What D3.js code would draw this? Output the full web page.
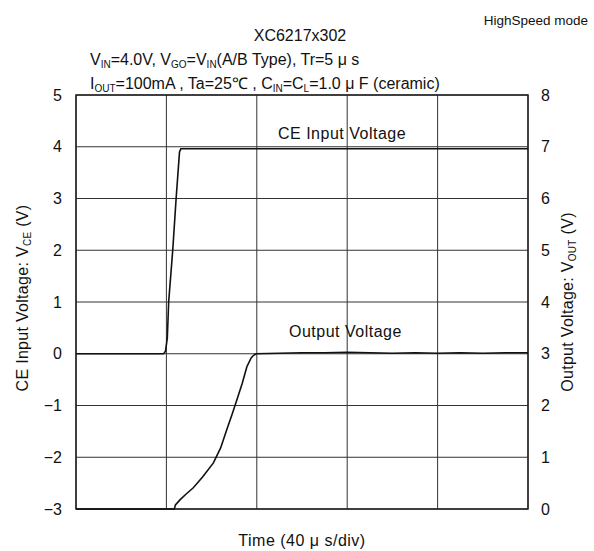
<!DOCTYPE html>
<html><head><meta charset="utf-8">
<script src="https://cdn.jsdelivr.net/npm/d3@7"></script>
<style>body{margin:0;background:#fff}svg{display:block}text{font-family:"Liberation Sans",Arial,sans-serif;fill:#111}</style>
</head><body><svg id="c" width="594" height="551"></svg>
<script>
// ---- data ----
const xTicks = [0, 40, 80, 120, 160, 200];           // µs (40 µs/div)
const leftTicks = [-3, -2, -1, 0, 1, 2, 3, 4, 5];    // CE input voltage (V)
const rightTicks = [0, 1, 2, 3, 4, 5, 6, 7, 8];      // output voltage (V)
const ceTime = [0, 38.8, 39.6, 40.4, 41.0, 42.8, 44.3, 45.8, 46.4, 200];
const ceVolt = [0, 0, 0.05, 0.3, 1.0, 2.0, 3.0, 3.9, 3.96, 3.96];
const outTime = [0, 43.5, 44.0, 46.1, 48.5, 51.9, 56.0, 60.8, 64.0, 66.7, 69.0, 71.2, 73.5, 75.6, 77.5, 78.6, 79.7, 90, 100, 110, 120, 130, 140, 150, 160, 170, 180, 190, 200];
const outVolt = [0, 0, 0.08, 0.18, 0.28, 0.41, 0.62, 0.89, 1.18, 1.53, 1.82, 2.11, 2.42, 2.75, 2.92, 2.97, 3.0, 3.01, 3.02, 3.02, 3.03, 3.02, 3.01, 3.02, 3.01, 3.02, 3.01, 3.02, 3.02];

// ---- layout ----
const svg = d3.select("#c");
const L = 76, R = 528, T = 95, B = 509;
const x = d3.scaleLinear().domain([0, 200]).range([L, R]);
const yL = d3.scaleLinear().domain([-3, 5]).range([B, T]);
const yR = d3.scaleLinear().domain([0, 8]).range([B, T]);

// grid
const g = svg.append("g");
g.selectAll("line.v").data(xTicks).join("line")
  .attr("x1", d => x(d)).attr("x2", d => x(d)).attr("y1", T).attr("y2", B)
  .attr("stroke", "#333").attr("stroke-width", 1);
g.selectAll("line.h").data(leftTicks).join("line")
  .attr("x1", L).attr("x2", R).attr("y1", d => yL(d)).attr("y2", d => yL(d))
  .attr("stroke", "#333").attr("stroke-width", 1);
g.append("rect").attr("x", L).attr("y", T).attr("width", R - L).attr("height", B - T)
  .attr("fill", "none").attr("stroke", "#222").attr("stroke-width", 1.5);

// axes (labels only)
const axL = d3.axisLeft(yL).tickValues(leftTicks).tickSize(0).tickPadding(14).tickFormat(d => d < 0 ? "\u2212" + Math.abs(d) : d);
const gl = svg.append("g").attr("transform", `translate(${L},0)`).call(axL);
const axR = d3.axisRight(yR).tickValues(rightTicks).tickSize(0).tickPadding(13);
const gr = svg.append("g").attr("transform", `translate(${R},0)`).call(axR);
[gl, gr].forEach(a => { a.select(".domain").remove(); a.selectAll("text").attr("font-size", 16).attr("font-family", "Liberation Sans, Arial, sans-serif").attr("fill", "#111"); });

// lines
const ceLine = d3.line().x((d, i) => x(ceTime[i])).y(d => yL(d));
svg.append("path").datum(ceVolt).attr("d", ceLine).attr("fill", "none").attr("stroke", "#111").attr("stroke-width", 1.6);
const outLine = d3.line().x((d, i) => x(outTime[i])).y(d => yR(d));
svg.append("path").datum(outVolt).attr("d", outLine).attr("fill", "none").attr("stroke", "#111").attr("stroke-width", 1.6);

// series labels
svg.append("text").attr("x", 278).attr("y", 139).attr("font-size", 16).attr("letter-spacing", 0.5).text("CE Input Voltage");
svg.append("text").attr("x", 289).attr("y", 337).attr("font-size", 16).attr("letter-spacing", 0.5).text("Output Voltage");

// titles
svg.append("text").attr("x", 588).attr("y", 25).attr("text-anchor", "end").attr("font-size", 13.5).text("HighSpeed mode");
svg.append("text").attr("x", 300).attr("y", 41).attr("text-anchor", "middle").attr("font-size", 16).text("XC6217x302");

function rich(xp, yp, parts) {
  const t = svg.append("text").attr("x", xp).attr("y", yp).attr("font-size", 16);
  let shifted = false;
  parts.forEach(p => {
    if (typeof p === "string") {
      const s = t.append("tspan").text(p);
      if (shifted) { s.attr("dy", -3); shifted = false; }
    } else {
      t.append("tspan").attr("font-size", 10).attr("dy", 3).text(p.sub);
      shifted = true;
    }
  });
  return t;
}
rich(90, 65, ["V", {sub: "IN"}, "=4.0V, V", {sub: "GO"}, "=V", {sub: "IN"}, "(A/B Type), Tr=5 \u03bc s"]);
rich(90, 89, ["I", {sub: "OUT"}, "=100mA , Ta=25\u2103 , C", {sub: "IN"}, "=C", {sub: "L"}, "=1.0 \u03bc F (ceramic)"]);

// axis titles
svg.append("text").attr("x", 302).attr("y", 546).attr("text-anchor", "middle").attr("font-size", 16).attr("letter-spacing", 0.5).text("Time (40 \u03bc s/div)");
const lt = svg.append("text").attr("transform", "translate(28,298) rotate(-90)").attr("text-anchor", "middle").attr("font-size", 16).attr("letter-spacing", 0.3);
lt.append("tspan").text("CE Input Voltage: V");
lt.append("tspan").attr("font-size", 10).attr("dy", 3).text("CE");
lt.append("tspan").attr("dy", -3).text(" (V)");
const rt = svg.append("text").attr("transform", "translate(573,302) rotate(-90)").attr("text-anchor", "middle").attr("font-size", 16).attr("letter-spacing", 0.3);
rt.append("tspan").text("Output Voltage: V");
rt.append("tspan").attr("font-size", 10).attr("dy", 3).text("OUT");
rt.append("tspan").attr("dy", -3).text(" (V)");
</script></body></html>
